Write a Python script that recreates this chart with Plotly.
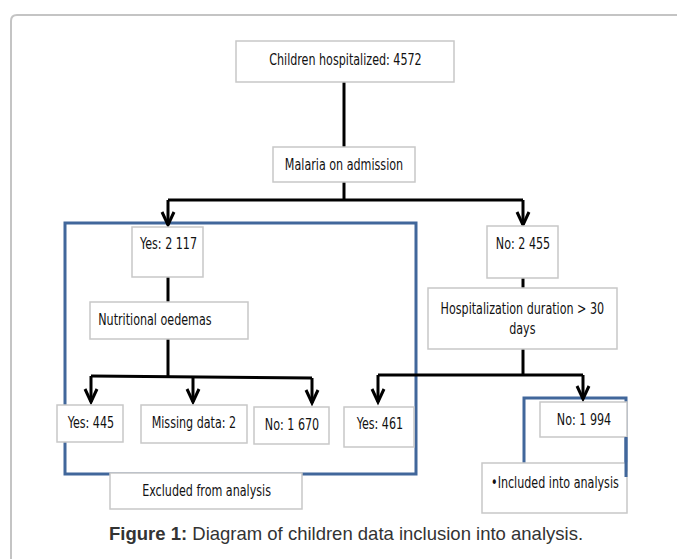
import plotly.graph_objects as go

# ---- data: flowchart node texts and counts (as printed) ----
node_names = ["hosp", "malaria", "yes_mal", "no_mal", "oedema", "duration",
              "yes445", "missing", "no1670", "yes461", "no1994", "excluded", "included"]
node_prefix = ["Children hospitalized: ", "Malaria on admission", "Yes: ", "No: ",
               "Nutritional oedemas", "Hospitalization duration > 30<br>days",
               "Yes: ", "Missing data: ", "No: ", "Yes: ", "No: ",
               "Excluded from analysis", "•Included into analysis"]
node_counts = ["4572", "", "2 117", "2 455", "", "", "445", "2", "1 670", "461", "1 994", "", ""]
caption_bold = "Figure 1:"
caption_text = " Diagram of children data inclusion into analysis."

# ---- layout geometry (pixel space of the 677x559 canvas) ----
W, H = 677, 559
geom = {  # x0, x1, y0, y1, text_x, text_y
    "hosp":     (236, 454, 41, 82, None, 60),
    "malaria":  (273, 415, 147, 182, None, 164.5),
    "yes_mal":  (132, 203, 227, 277, None, 244),
    "no_mal":   (487, 558, 226, 278, None, 244),
    "oedema":   (90, 248, 302, 339, 155, 319.5),
    "duration": (428, 617, 288, 349, None, 318.5),
    "yes445":   (57, 123, 405, 442, None, 423),
    "missing":  (141, 247, 405, 443, None, 423),
    "no1670":   (254, 329, 407, 444, None, 425),
    "yes461":   (344, 414, 407, 447, None, 424),
    "no1994":   (540, 627, 402, 437, None, 420),
    "excluded": (110, 302, 473, 509, None, 491),
    "included": (482, 627, 463, 513, None, 483),
}

BLACK = "#000000"
BLUE = "#41679b"
GRAY = "#c4c4c4"
BOXLINE = "#c8c8c8"
FONT = "Liberation Sans Narrow, DejaVu Sans Condensed, Roboto Condensed, Arial Narrow, sans-serif"
FSIZE = 15.5

shapes = []
annotations = []

# outer frame (rounded top-left corner, continues past the canvas)
shapes.append(dict(type="path", path=f"M 11 {H+5} L 11 21 Q 11 15 17 15 L {W+5} 15",
                   line=dict(color=GRAY, width=2), xref="x", yref="y"))

# blue grouping rectangles
shapes.append(dict(type="rect", x0=65, x1=416, y0=223, y1=474,
                   line=dict(color=BLUE, width=3), xref="x", yref="y"))
shapes.append(dict(type="rect", x0=524, x1=626, y0=398, y1=470,
                   line=dict(color=BLUE, width=3), xref="x", yref="y"))


def line(x0, y0, x1, y1):
    shapes.append(dict(type="line", x0=x0, y0=y0, x1=x1, y1=y1,
                       line=dict(color=BLACK, width=3), xref="x", yref="y"))


def arrow(x, y0, tip):
    line(x, y0, x, tip - 1)
    shapes.append(dict(type="path",
                       path=f"M {x-6} {tip-14} L {x} {tip-1} L {x+6} {tip-14}",
                       line=dict(color=BLACK, width=3), xref="x", yref="y"))


# connectors
line(344, 82, 344, 147)
line(344, 182, 344, 200)
line(168, 200, 523, 200)
arrow(168, 200, 226)
arrow(523, 200, 226)
line(168, 277, 168, 302)
line(168, 339, 168, 377)
line(91, 376, 312, 378)
arrow(91, 376, 403)
arrow(193, 377, 403)
arrow(312, 378, 404)
line(523, 278, 523, 288)
line(523, 349, 523, 375)
line(378, 375, 583, 375)
arrow(378, 375, 403)
arrow(583, 375, 400)

# boxes + texts
for name, pre, cnt in zip(node_names, node_prefix, node_counts):
    x0, x1, y0, y1, tx, ty = geom[name]
    shapes.append(dict(type="rect", x0=x0, x1=x1, y0=y0, y1=y1,
                       line=dict(color=BOXLINE, width=1.5), fillcolor="white",
                       xref="x", yref="y"))
    annotations.append(dict(x=tx if tx is not None else (x0 + x1) / 2, y=ty,
                            xref="x", yref="y", text=pre + cnt, showarrow=False,
                            xanchor="center", yanchor="middle", align="center",
                            font=dict(family=FONT, size=FSIZE, color="#111111")))

# blue edge visible over the lower box
shapes.append(dict(type="line", x0=626, x1=626, y0=437, y1=477,
                   line=dict(color=BLUE, width=3), xref="x", yref="y"))

# caption
annotations.append(dict(x=346, y=533, xref="x", yref="y",
                        text=f"<b>{caption_bold}</b>{caption_text}", showarrow=False,
                        xanchor="center", yanchor="middle",
                        font=dict(family="Liberation Sans, Arial, sans-serif", size=18.5,
                                  color="#333333")))

fig = go.Figure()
fig.update_layout(
    width=W, height=H, autosize=False,
    margin=dict(l=0, r=0, t=0, b=0, pad=0),
    paper_bgcolor="white", plot_bgcolor="white",
    xaxis=dict(range=[0, W], visible=False, fixedrange=True),
    yaxis=dict(range=[H, 0], visible=False, fixedrange=True),
    shapes=shapes, annotations=annotations, showlegend=False,
)

post = """
document.body.style.margin='0';
document.body.style.overflow='hidden';
function condense(){
  document.querySelectorAll('g.annotation text.annotation-text').forEach(function(t){
    if(t.textContent.indexOf('Figure')<0){
      t.style.transformBox='fill-box';
      t.style.transformOrigin='center';
      t.style.transform='scaleX(0.8)';
    }
  });
}
condense();
setTimeout(condense, 50);
var gd=document.getElementById('{plot_id}');
if(gd && gd.on){ gd.on('plotly_afterplot', condense); }
"""
fig.write_html("out.html", config={"displayModeBar": False}, post_script=post)
